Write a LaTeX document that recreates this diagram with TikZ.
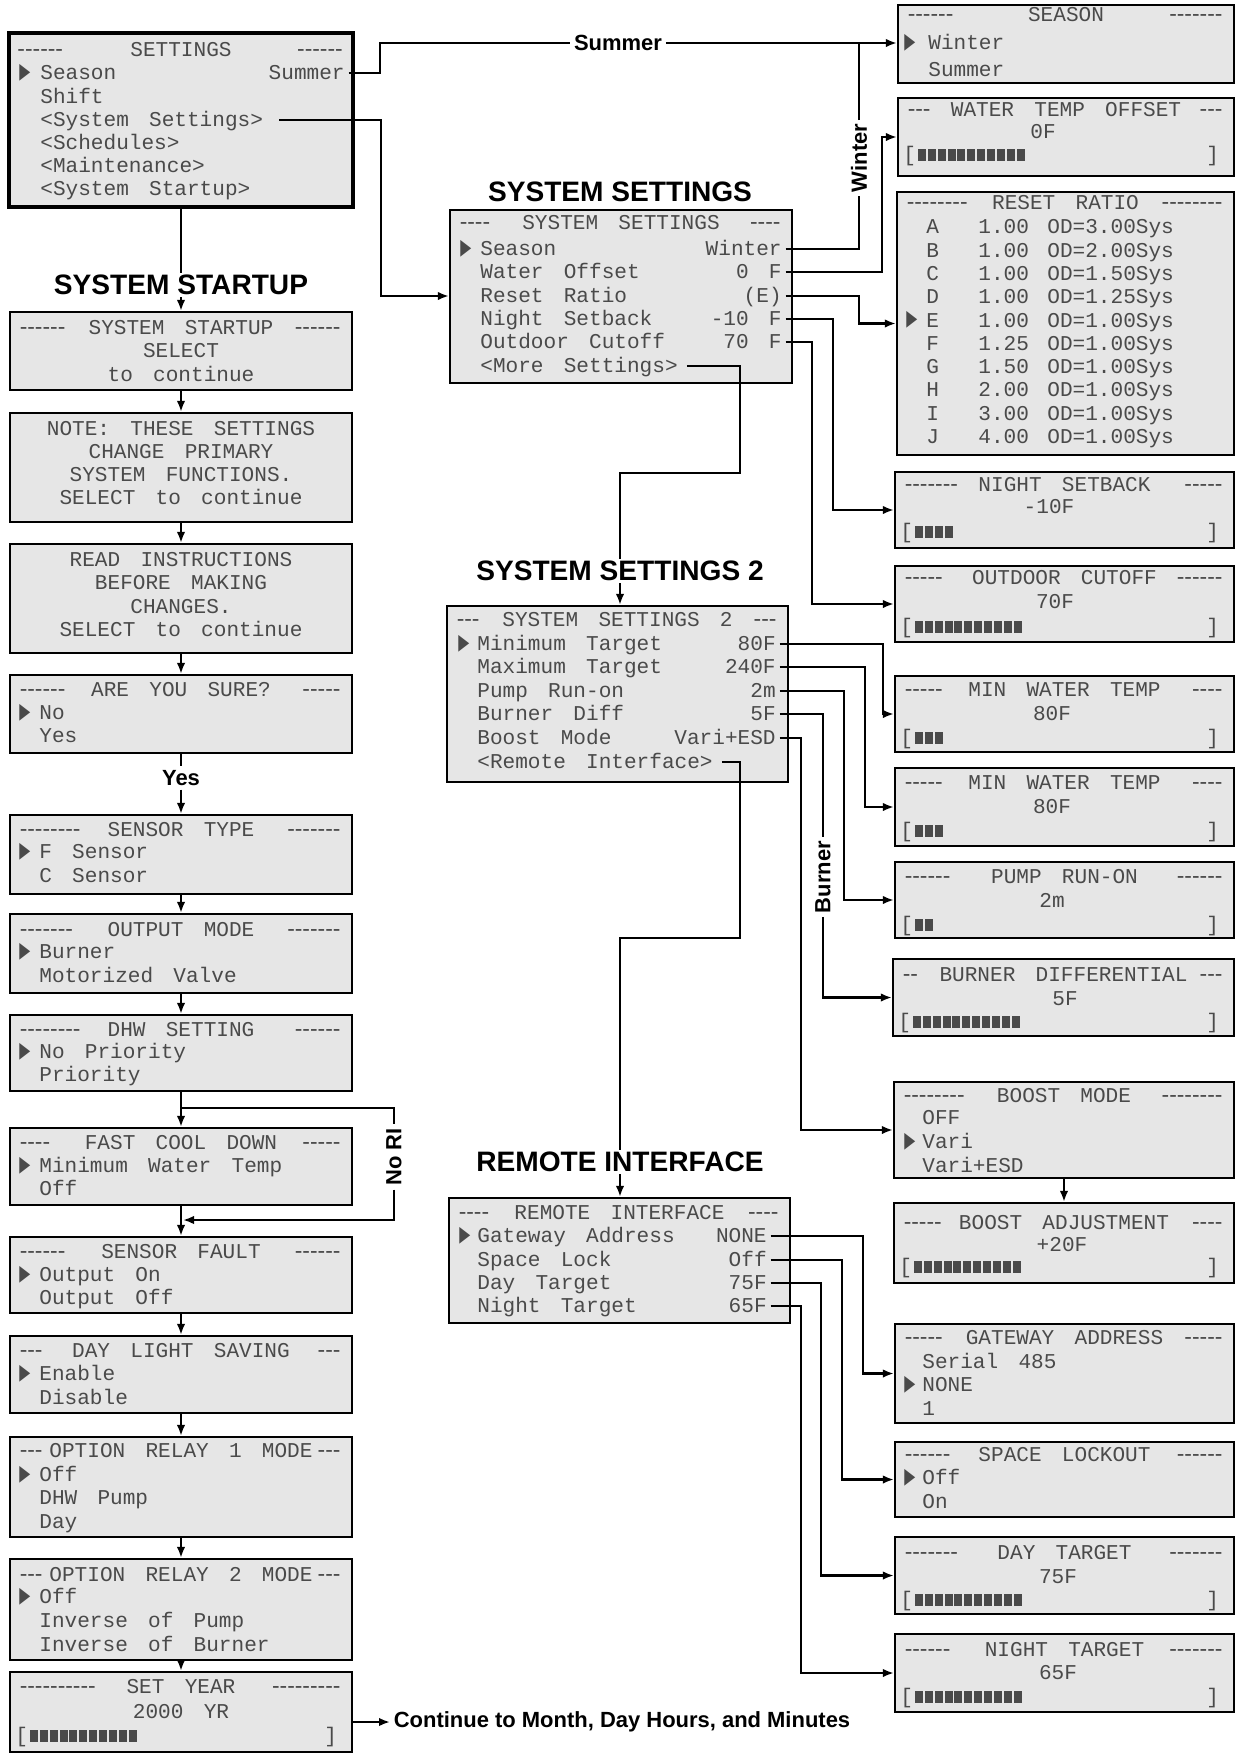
\documentclass[tikz,border=0pt]{standalone}
\usepackage{fontspec}
\setsansfont{Liberation Sans}
\newfontfamily\lcdfont[WordSpace=1.6, Ligatures=TeXOff]{Liberation Mono}
\newfontfamily\dshfont[Ligatures=TeXOff]{Liberation Sans}
\newfontfamily\symfont{DejaVu Sans}
\usetikzlibrary{arrows.meta, positioning, calc, fit}

\definecolor{lcdbg}{HTML}{E6E6E6}
\definecolor{lcdink}{HTML}{4A4A4A}

\newcommand\lcdf{\fontsize{12}{14}\lcdfont}
\newcommand\dshf{\fontsize{13}{14}\dshfont}
\newcommand\ptrg{\scalebox{0.65}[1]{\fontsize{12.5}{12.5}\symfont ▶}}

% title line of a screen: box, y, left dashes, title, right dashes
\newcommand\ttl[5]{%
  \node[dsh, anchor=west, xshift=6pt] (#1-l) at (#1.west |- 0,#2) {#3};
  \node[mid] (#1-t) at (#1.center |- 0,#2) {#4};
  \node[dsh, anchor=east, xshift=-7pt] (#1-r) at (#1.east |- 0,#2) {#5};}

% bar graph line of a screen: box, y, number of blocks
\newcommand\lcdbar[3]{%
  \node[row, xshift=3.5pt] (#1-bl) at (#1.west |- 0,#2) {[};
  \node[val, xshift=-9pt] (#1-br) at (#1.east |- 0,#2) {]};
  \foreach \k in {1,...,#3}
    \fill[lcdink] ($(#1-bl.east)+({9.9*\k-8.4},-6)$) rectangle ++(8,12);}

\begin{document}
\begin{tikzpicture}[
  x=0.02cm, y=-0.02cm,
  >={Latex[length=2.2mm, width=1.7mm]},
  lcd/.style ={draw, line width=1.3pt, fill=lcdbg, inner sep=0pt},
  main/.style={lcd, line width=2.8pt},
  row/.style ={font=\lcdf, text=lcdink, inner sep=0pt, anchor=west, text height=7.8pt, text depth=0pt},
  mid/.style ={row, anchor=center},
  val/.style ={row, anchor=east},
  dsh/.style ={font=\dshf, text=lcdink, inner sep=0pt, text height=7.8pt, text depth=0pt},
  ptr/.style ={text=lcdink, inner sep=0pt, anchor=west},
  head/.style={font=\fontsize{16}{19}\selectfont\sffamily\bfseries, inner sep=1pt},
  lbl/.style ={font=\fontsize{12.5}{15}\selectfont\sffamily\bfseries, inner sep=2pt},
  wire/.style={line width=1.2pt},
  tap/.style ={wire, shorten <=2pt},
]
\useasboundingbox (0,0) rectangle (1236,1758);

% ---------- left column: settings menu + startup sequence ----------
\node[main, fit={(9,33) (353,207)}] (set) {};
\ttl{set}{50}{------}{SETTINGS}{------}
\node[ptr] (set-p) at (19,73) {\ptrg};
\node[row] (set-1) at (40,73) {Season};
\node[val] (set-v) at (345,73) {Summer};
\node[row] (set-2) at (40,97) {Shift};
\node[row] (set-3) at (40,120) {<System Settings>};
\node[row] (set-4) at (40,143) {<Schedules>};
\node[row] (set-5) at (40,166) {<Maintenance>};
\node[row] (set-6) at (40,189) {<System Startup>};

\node[head] (hst) at (181,285) {SYSTEM STARTUP};

\node[lcd, fit={(10,312) (352,390)}] (start) {};
\ttl{start}{328}{------}{SYSTEM STARTUP}{------}
\node[mid] (start-1) at (181,351) {SELECT};
\node[mid] (start-2) at (181,375) {to continue};

\node[lcd, fit={(10,413) (352,522)}] (note) {};
\node[mid] (note-1) at (181,429) {NOTE: THESE SETTINGS};
\node[mid] (note-2) at (181,452) {CHANGE PRIMARY};
\node[mid] (note-3) at (181,475) {SYSTEM FUNCTIONS.};
\node[mid] (note-4) at (181,498) {SELECT to continue};

\node[lcd, fit={(10,544) (352,653)}] (read) {};
\node[mid] (read-1) at (181,560) {READ INSTRUCTIONS};
\node[mid] (read-2) at (181,583) {BEFORE MAKING};
\node[mid] (read-3) at (181,607) {CHANGES.};
\node[mid] (read-4) at (181,630) {SELECT to continue};

\node[lcd, fit={(10,675) (352,753)}] (sure) {};
\ttl{sure}{690}{------}{ARE YOU SURE?}{-----}
\node[ptr] (sure-p) at (19,713) {\ptrg};
\node[row] (sure-1) at (39,713) {No};
\node[row] (sure-2) at (39,736) {Yes};

\node[lbl] (yes) at (181,778) {Yes};

\node[lcd, fit={(10,815) (352,894)}] (sensor) {};
\ttl{sensor}{830}{--------}{SENSOR TYPE}{-------}
\node[ptr] (sensor-p) at (19,852) {\ptrg};
\node[row] (sensor-1) at (39,852) {F Sensor};
\node[row] (sensor-2) at (39,876) {C Sensor};

\node[lcd, fit={(10,914) (352,993)}] (output) {};
\ttl{output}{930}{-------}{OUTPUT MODE}{-------}
\node[ptr] (output-p) at (19,952) {\ptrg};
\node[row] (output-1) at (39,952) {Burner};
\node[row] (output-2) at (39,976) {Motorized Valve};

\node[lcd, fit={(10,1015) (352,1091)}] (dhw) {};
\ttl{dhw}{1030}{--------}{DHW SETTING}{------}
\node[ptr] (dhw-p) at (19,1052) {\ptrg};
\node[row] (dhw-1) at (39,1052) {No Priority};
\node[row] (dhw-2) at (39,1075) {Priority};

\node[lcd, fit={(10,1128) (352,1205)}] (fast) {};
\ttl{fast}{1143}{----}{FAST COOL DOWN}{-----}
\node[ptr] (fast-p) at (19,1166) {\ptrg};
\node[row] (fast-1) at (39,1166) {Minimum Water Temp};
\node[row] (fast-2) at (39,1189) {Off};

\node[lbl, rotate=90] (nori) at (394,1157) {No RI};

\node[lcd, fit={(10,1237) (352,1313)}] (fault) {};
\ttl{fault}{1252}{------}{SENSOR FAULT}{------}
\node[ptr] (fault-p) at (19,1275) {\ptrg};
\node[row] (fault-1) at (39,1275) {Output On};
\node[row] (fault-2) at (39,1298) {Output Off};

\node[lcd, fit={(10,1336) (352,1413)}] (dls) {};
\ttl{dls}{1351}{---}{DAY LIGHT SAVING}{---}
\node[ptr] (dls-p) at (19,1374) {\ptrg};
\node[row] (dls-1) at (39,1374) {Enable};
\node[row] (dls-2) at (39,1398) {Disable};

\node[lcd, fit={(10,1437) (352,1537)}] (rel1) {};
\ttl{rel1}{1451}{---}{OPTION RELAY 1 MODE}{---}
\node[ptr] (rel1-p) at (19,1475) {\ptrg};
\node[row] (rel1-1) at (39,1475) {Off};
\node[row] (rel1-2) at (39,1498) {DHW Pump};
\node[row] (rel1-3) at (39,1522) {Day};

\node[lcd, fit={(10,1559) (352,1660)}] (rel2) {};
\ttl{rel2}{1575}{---}{OPTION RELAY 2 MODE}{---}
\node[ptr] (rel2-p) at (19,1597) {\ptrg};
\node[row] (rel2-1) at (39,1597) {Off};
\node[row] (rel2-2) at (39,1621) {Inverse of Pump};
\node[row] (rel2-3) at (39,1645) {Inverse of Burner};

\node[lcd, fit={(10,1672) (352,1752)}] (year) {};
\ttl{year}{1687}{----------}{SET YEAR}{---------}
\node[mid] (year-1) at (181,1712) {2000 YR};
\lcdbar{year}{1736}{11}

\node[lbl, anchor=west] (cont) at (390,1722) {Continue to Month, Day Hours, and Minutes};

% ---------- middle column: system settings, settings 2, remote interface ----------
\node[lbl] (sumlab) at (618,43) {Summer};

\node[head] (hss) at (620,192) {SYSTEM SETTINGS};
\node[lcd, fit={(450,210) (792,383)}] (ss) {};
\ttl{ss}{223}{----}{SYSTEM SETTINGS}{----}
\node[ptr] (ss-p) at (460,249) {\ptrg};
\node[row] (ss-1) at (480,249) {Season};
\node[val] (ss-v1) at (782,249) {Winter};
\node[row] (ss-2) at (480,272) {Water Offset};
\node[val] (ss-v2) at (782,272) {0 F};
\node[row] (ss-3) at (480,296) {Reset Ratio};
\node[val] (ss-v3) at (782,296) {(E)};
\node[row] (ss-4) at (480,319) {Night Setback};
\node[val] (ss-v4) at (782,319) {-10 F};
\node[row] (ss-5) at (480,342) {Outdoor Cutoff};
\node[val] (ss-v5) at (782,342) {70 F};
\node[row] (ss-6) at (480,366) {<More Settings>};

\node[head] (hss2) at (620,571) {SYSTEM SETTINGS 2};
\node[lcd, fit={(447,606) (788,782)}] (ss2) {};
\ttl{ss2}{620}{---}{SYSTEM SETTINGS 2}{---}
\node[ptr] (ss2-p) at (458,644) {\ptrg};
\node[row] (ss2-1) at (477,644) {Minimum Target};
\node[val] (ss2-v1) at (776,644) {80F};
\node[row] (ss2-2) at (477,667) {Maximum Target};
\node[val] (ss2-v2) at (776,667) {240F};
\node[row] (ss2-3) at (477,691) {Pump Run-on};
\node[val] (ss2-v3) at (776,691) {2m};
\node[row] (ss2-4) at (477,714) {Burner Diff};
\node[val] (ss2-v4) at (776,714) {5F};
\node[row] (ss2-5) at (477,738) {Boost Mode};
\node[val] (ss2-v5) at (776,738) {Vari+ESD};
\node[row] (ss2-6) at (477,762) {<Remote Interface>};

\node[head] (hri) at (620,1162) {REMOTE INTERFACE};
\node[lcd, fit={(449,1198) (790,1323)}] (ri) {};
\ttl{ri}{1213}{----}{REMOTE INTERFACE}{----}
\node[ptr] (ri-p) at (459,1236) {\ptrg};
\node[row] (ri-1) at (477,1236) {Gateway Address};
\node[val] (ri-v1) at (767,1236) {NONE};
\node[row] (ri-2) at (477,1260) {Space Lock};
\node[val] (ri-v2) at (767,1260) {Off};
\node[row] (ri-3) at (477,1283) {Day Target};
\node[val] (ri-v3) at (767,1283) {75F};
\node[row] (ri-4) at (477,1306) {Night Target};
\node[val] (ri-v4) at (767,1306) {65F};

\node[lbl, rotate=90] (wlab) at (859,158) {Winter};
\node[lbl, rotate=90] (blab) at (823,877) {Burner};

% ---------- right column: value screens ----------
\node[lcd, fit={(898,5) (1234,83)}] (season) {};
\ttl{season}{15}{------}{SEASON}{-------}
\node[ptr] (season-p) at (904,43) {\ptrg};
\node[row] (season-1) at (928,43) {Winter};
\node[row] (season-2) at (928,70) {Summer};

\node[lcd, fit={(898,98) (1234,176)}] (wto) {};
\ttl{wto}{110}{---}{WATER TEMP OFFSET}{---}
\node[mid] (wto-1) at (1043,132) {0F};
\lcdbar{wto}{155}{11}

\node[lcd, fit={(897,192) (1234,455)}] (rr) {};
\ttl{rr}{203}{--------}{RESET RATIO}{--------}
\foreach \ka/\kb/\kc [count=\i from 0] in {A/1.00/3.00, B/1.00/2.00, C/1.00/1.50, D/1.00/1.25, E/1.00/1.00, F/1.25/1.00, G/1.50/1.00, H/2.00/1.00, I/3.00/1.00, J/4.00/1.00} {
  \node[row] (rr-\ka) at (926,{227+23.3*\i}) {\ka};
  \node[row] (rr-\ka-x) at (978,{227+23.3*\i}) {\kb};
  \node[row] (rr-\ka-o) at (1047,{227+23.3*\i}) {OD=\kc Sys};
}
\node[ptr] (rr-p) at (906,320) {\ptrg};

\node[lcd, fit={(895,472) (1234,548)}] (ns) {};
\ttl{ns}{485}{-------}{NIGHT SETBACK}{-----}
\node[mid] (ns-1) at (1049,507) {-10F};
\lcdbar{ns}{532}{4}

\node[lcd, fit={(895,566) (1234,642)}] (oc) {};
\ttl{oc}{578}{-----}{OUTDOOR CUTOFF}{------}
\node[mid] (oc-1) at (1055,602) {70F};
\lcdbar{oc}{627}{11}

\node[lcd, fit={(895,676) (1234,752)}] (mw1) {};
\ttl{mw1}{690}{-----}{MIN WATER TEMP}{----}
\node[mid] (mw1-1) at (1052,714) {80F};
\lcdbar{mw1}{738}{3}

\node[lcd, fit={(895,768) (1234,846)}] (mw2) {};
\ttl{mw2}{783}{-----}{MIN WATER TEMP}{----}
\node[mid] (mw2-1) at (1052,807) {80F};
\lcdbar{mw2}{831}{3}

\node[lcd, fit={(895,862) (1234,938)}] (pr) {};
\ttl{pr}{877}{------}{PUMP RUN-ON}{------}
\node[mid] (pr-1) at (1052,901) {2m};
\lcdbar{pr}{925}{2}

\node[lcd, fit={(893,959) (1234,1036)}] (bd) {};
\ttl{bd}{975}{--}{BURNER DIFFERENTIAL}{---}
\node[mid] (bd-1) at (1065,999) {5F};
\lcdbar{bd}{1022}{11}

\node[lcd, fit={(894,1082) (1234,1178)}] (bm) {};
\ttl{bm}{1096}{--------}{BOOST MODE}{--------}
\node[row] (bm-1) at (922,1118) {OFF};
\node[ptr] (bm-p) at (904,1142) {\ptrg};
\node[row] (bm-2) at (922,1142) {Vari};
\node[row] (bm-3) at (922,1166) {Vari+ESD};

\node[lcd, fit={(894,1203) (1234,1283)}] (ba) {};
\ttl{ba}{1223}{-----}{BOOST ADJUSTMENT}{----}
\node[mid] (ba-1) at (1062,1245) {+20F};
\lcdbar{ba}{1267}{11}

\node[lcd, fit={(895,1324) (1234,1423)}] (ga) {};
\ttl{ga}{1338}{-----}{GATEWAY ADDRESS}{-----}
\node[row] (ga-1) at (922,1362) {Serial 485};
\node[ptr] (ga-p) at (904,1385) {\ptrg};
\node[row] (ga-2) at (922,1385) {NONE};
\node[row] (ga-3) at (922,1409) {1};

\node[lcd, fit={(895,1442) (1234,1517)}] (sl) {};
\ttl{sl}{1455}{------}{SPACE LOCKOUT}{------}
\node[ptr] (sl-p) at (904,1478) {\ptrg};
\node[row] (sl-1) at (922,1478) {Off};
\node[row] (sl-2) at (922,1502) {On};

\node[lcd, fit={(895,1537) (1234,1614)}] (dt) {};
\ttl{dt}{1553}{-------}{DAY TARGET}{-------}
\node[mid] (dt-1) at (1058,1577) {75F};
\lcdbar{dt}{1600}{11}

\node[lcd, fit={(895,1634) (1234,1712)}] (nt) {};
\ttl{nt}{1650}{------}{NIGHT TARGET}{-------}
\node[mid] (nt-1) at (1058,1673) {65F};
\lcdbar{nt}{1697}{11}

% ---------- connectors ----------
% startup chain down the left
\draw[wire] (set) -- (hst);
\draw[wire,->] (hst) -- (start);
\foreach \a/\b in {start/note, note/read, read/sure, sensor/output, output/dhw, dhw/fast, fast/fault, fault/dls, dls/rel1, rel1/rel2, rel2/year}
  \draw[wire,->] (\a) -- (\b);
\draw[wire] (sure) -- (yes);
\draw[wire,->] (yes) -- (sensor);

% skip fast cool down when there is no remote interface
\coordinate (nr1) at (181,1108);
\coordinate (nr2) at (183,1220);
\draw[wire] (nr1) -| (nori.east);
\draw[wire,->] (nori.west) |- (nr2);

\draw[wire,->] (year.east |- cont.west) -- (cont.west);

% season from the main menu and from system settings
\draw[tap] (set-v.east) -| (380,0 |- sumlab.west) -- (sumlab.west);
\draw[wire,->] (sumlab.east) -- (season.west |- sumlab.east);
\draw[tap] (ss-v1.east) -| (wlab.west);
\draw[wire] (wlab.east) -- (wlab.east |- sumlab.east);

\draw[tap,->,shorten <=9pt] (set-3.east) -| (381,0 |- ss-3.west) -- (ss.west |- ss-3.west);

% value rows out to their edit screens
\foreach \src/\tgt/\bx in {ss-v2/wto/882, ss-v3/rr/859, ss-v4/ns/833, ss-v5/oc/812,
    ss2-v1/mw1/883, ss2-v2/mw2/865, ss2-v3/pr/844, ss2-v5/bm/801,
    ri-v1/ga/863, ri-v2/sl/842, ri-v3/dt/821, ri-v4/nt/801}
  \draw[tap,->] (\src.east) -| (\bx,0 |- \tgt.west) -- (\tgt.west);
\draw[tap] (ss2-v4.east) -| (blab.east);
\draw[wire,->] (blab.west) |- (bd.west);
\draw[wire,->] (bm) -- (ba);

% sub menus
\draw[tap,shorten <=5pt] (ss-6.east) -| (740,473) -| (hss2.north);
\draw[wire,->] (hss2.south) -- (hss2.south |- ss2.north);
\draw[tap,shorten <=5pt] (ss2-6.east) -| (740,938) -| (hri.north);
\draw[wire,->] (hri.south) -- (hri.south |- ri.north);

\end{tikzpicture}
\end{document}
